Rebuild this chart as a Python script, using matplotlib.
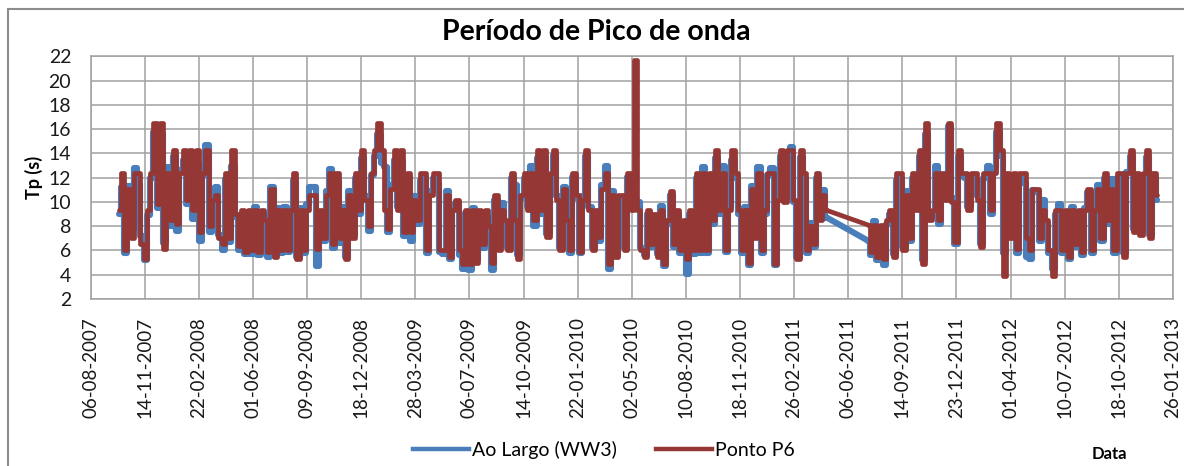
import numpy as np
import pandas as pd
import matplotlib
matplotlib.use('Agg')
import matplotlib.pyplot as plt
import matplotlib.dates as mdates
from matplotlib.patches import Rectangle
from matplotlib.lines import Line2D

plt.rcParams['font.family'] = ['Lato', 'DejaVu Sans']

# Tp (s), one value every 6 days
# first block starts 28-09-2007, second block (after the data gap) starts 13-07-2011
p6_seg1 = [
    9.3, 12.4, 6.0, 11.1, 7.0, 12.4, 12.4, 6.5, 5.3, 9.3,
    12.4, 16.5, 9.8, 16.5, 6.1, 12.4, 8.5, 14.3, 8.2, 12.4,
    14.3, 10.2, 14.3, 9.3, 14.3, 7.5, 12.4, 14.3, 8.0, 10.2,
    10.6, 7.0, 6.5, 12.4, 7.0, 14.3, 9.0, 6.4, 9.3, 5.9,
    9.3, 6.0, 9.3, 5.9, 9.3, 8.5, 5.9, 11.1, 5.5, 9.3,
    6.0, 9.3, 6.0, 9.3, 12.4, 5.3, 9.3, 6.0, 9.3, 10.6,
    10.6, 6.1, 9.3, 7.0, 10.6, 12.4, 6.5, 12.4, 7.0, 9.3,
    5.3, 10.6, 7.0, 12.4, 9.3, 14.3, 10.2, 8.0, 12.4, 14.3,
    16.5, 14.3, 9.3, 7.8, 11.1, 14.3, 9.3, 14.3, 7.5, 12.4,
    7.5, 10.2, 8.5, 12.4, 12.4, 6.0, 10.6, 12.4, 12.4, 6.0,
    6.0, 10.6, 5.5, 9.3, 10.2, 6.0, 4.9, 9.3, 4.9, 9.3,
    5.0, 9.3, 6.5, 9.3, 8.0, 5.0, 10.6, 6.0, 9.3, 8.5,
    6.0, 12.4, 8.5, 5.3, 10.6, 12.4, 9.3, 12.4, 8.5, 14.3,
    9.3, 14.3, 7.1, 12.4, 14.3, 10.2, 6.0, 11.1, 8.5, 6.0,
    12.4, 10.6, 5.9, 10.2, 14.3, 9.3, 6.0, 9.3, 7.1, 11.1,
    12.4, 4.9, 10.6, 5.5, 10.6, 10.6, 6.0, 12.4, 9.3, 21.7,
    9.3, 6.0, 5.5, 9.3, 6.5, 9.0, 5.5, 9.3, 4.9, 8.5,
    10.9, 6.5, 9.3, 6.0, 8.5, 5.3, 9.3, 6.0, 12.4, 6.0,
    12.4, 6.0, 12.4, 8.5, 14.3, 9.3, 12.4, 6.0, 9.3, 14.3,
    12.4, 9.3, 6.0, 9.3, 5.0, 11.1, 7.0, 12.4, 6.0, 9.3,
    12.4, 12.4, 4.9, 10.2, 14.3, 10.0, 14.3, 14.3, 10.2, 5.3,
    14.3, 12.4, 6.0, 8.0, 6.5, 12.4, 8.5, 10.6, 9.3,
]
p6_seg2 = [
    8.1, 5.9, 8.1, 5.5, 8.1, 5.3, 8.5, 9.3, 5.5, 12.4,
    12.4, 6.0, 10.6, 7.0, 12.4, 9.3, 14.3, 4.9, 16.5, 8.5,
    9.3, 12.4, 8.5, 12.4, 10.2, 16.5, 10.0, 6.7, 14.3, 12.4,
    12.4, 9.3, 12.4, 12.4, 10.2, 6.3, 12.4, 12.4, 9.3, 12.4,
    16.5, 14.3, 3.9, 12.4, 7.0, 12.4, 6.1, 12.4, 12.4, 7.0,
    6.0, 11.1, 11.1, 7.0, 9.3, 8.5, 6.0, 3.9, 9.3, 9.3,
    6.0, 9.3, 5.5, 9.3, 6.5, 9.3, 5.9, 9.3, 11.1, 6.0,
    9.3, 11.1, 7.0, 12.4, 8.5, 11.1, 6.0, 12.4, 12.4, 5.5,
    12.4, 14.3, 7.5, 12.4, 7.3, 12.4, 14.3, 7.0, 12.4, 10.6,
]
ww3_seg1 = [
    9.0, 11.2, 5.8, 11.3, 7.8, 12.8, 11.5, 7.2, 5.2, 8.9,
    12.0, 15.8, 9.5, 15.6, 6.6, 12.9, 8.0, 13.8, 7.6, 12.6,
    13.5, 9.8, 13.9, 8.6, 13.2, 6.8, 12.2, 14.7, 7.5, 10.8,
    11.2, 7.3, 6.0, 11.9, 6.7, 13.0, 8.8, 6.0, 9.0, 5.7,
    9.0, 5.7, 9.6, 5.6, 9.0, 8.2, 5.5, 11.2, 5.6, 9.5,
    5.8, 9.6, 5.9, 9.0, 11.8, 5.5, 9.5, 5.8, 9.8, 11.2,
    11.2, 4.7, 9.0, 6.8, 10.9, 12.7, 6.2, 11.8, 6.6, 9.6,
    5.5, 10.9, 7.3, 12.0, 9.0, 13.6, 10.5, 7.6, 12.2, 13.8,
    15.6, 13.2, 12.9, 7.5, 11.4, 13.5, 9.6, 13.4, 7.2, 12.0,
    6.8, 10.5, 8.2, 11.8, 12.0, 5.8, 10.9, 12.0, 11.6, 5.9,
    5.7, 10.9, 5.3, 9.6, 9.9, 5.6, 4.5, 9.1, 4.4, 9.5,
    5.2, 9.0, 6.2, 8.8, 7.6, 4.4, 10.2, 6.3, 9.9, 8.2,
    6.2, 12.0, 11.4, 5.6, 10.3, 12.0, 9.6, 13.0, 8.0, 13.6,
    9.0, 13.7, 7.4, 12.0, 13.9, 10.5, 6.2, 11.2, 8.3, 5.8,
    12.1, 10.3, 5.8, 10.5, 13.8, 9.6, 6.2, 9.0, 6.8, 11.4,
    13.0, 4.5, 10.9, 5.6, 10.3, 10.4, 6.2, 12.1, 9.6, 10.0,
    10.0, 6.2, 5.6, 9.0, 6.3, 8.7, 5.7, 9.7, 4.7, 8.2,
    10.6, 6.3, 9.0, 5.8, 8.2, 4.1, 9.0, 5.7, 12.0, 5.8,
    12.9, 5.8, 12.1, 8.2, 13.6, 9.0, 13.0, 5.9, 9.6, 13.5,
    12.0, 9.0, 5.8, 9.6, 4.8, 11.3, 7.3, 12.9, 5.8, 9.0,
    12.2, 12.8, 4.8, 10.5, 13.8, 10.3, 14.0, 14.5, 10.0, 5.5,
    13.7, 12.0, 5.8, 8.3, 6.3, 12.0, 8.8, 11.0, 8.7,
]
ww3_seg2 = [
    6.8, 5.6, 8.4, 5.2, 7.8, 4.8, 8.2, 9.0, 5.7, 11.8,
    12.0, 6.3, 10.9, 6.8, 12.0, 9.6, 13.8, 5.2, 15.6, 8.8,
    9.0, 13.0, 8.2, 12.0, 10.5, 16.3, 10.3, 6.5, 13.8, 12.2,
    12.0, 9.6, 12.2, 11.8, 10.5, 6.5, 12.0, 13.0, 9.0, 12.8,
    15.8, 13.8, 5.8, 12.0, 7.3, 12.2, 5.8, 12.0, 11.6, 5.5,
    5.3, 11.0, 10.8, 6.8, 10.2, 8.2, 5.8, 4.5, 9.0, 9.8,
    5.8, 9.0, 5.3, 9.6, 6.3, 9.0, 5.6, 9.5, 10.8, 5.8,
    9.0, 11.4, 6.8, 12.0, 8.2, 11.9, 5.8, 12.0, 12.2, 5.8,
    12.5, 13.8, 7.8, 12.0, 7.6, 12.2, 13.7, 7.3, 12.0, 10.2,
]

dates1 = pd.date_range('2007-09-28', periods=len(p6_seg1), freq='6D')
dates2 = pd.date_range('2011-07-13', periods=len(p6_seg2), freq='6D')

x_ticks = pd.date_range('2007-08-06', periods=21, freq='100D')

blue = '#4A7EBB'
red = '#953735'
grid_c = '#A0A0A0'

fig = plt.figure(figsize=(11.84, 4.66), dpi=100)
ax = fig.add_axes([0.0766, 0.3584, 0.9140, 0.5204])


def draw_series(seg1, seg2, color, lw, z):
    # dense record drawn as steps; the data gap is bridged by a straight line
    kw = dict(color=color, lw=lw, zorder=z, solid_joinstyle='round', solid_capstyle='round')
    ax.plot(dates1, seg1, drawstyle='steps-mid', **kw)
    ax.plot(dates2, seg2, drawstyle='steps-mid', **kw)
    ax.plot([dates1[-1], dates2[0]], [seg1[-1], seg2[0]], **kw)


draw_series(ww3_seg1, ww3_seg2, blue, 4.4, 3)
draw_series(p6_seg1, p6_seg2, red, 3.4, 4)

ax.set_xlim(x_ticks[0], x_ticks[-1])
ax.set_ylim(2, 22)
ax.set_yticks(np.arange(2, 23, 2))
ax.set_xticks(x_ticks)
ax.xaxis.set_major_formatter(mdates.DateFormatter('%d-%m-%Y'))
ax.tick_params(axis='x', rotation=90, length=0, pad=13, labelsize=13.5, colors='#1a1a1a')
ax.tick_params(axis='y', length=0, pad=14, labelsize=14, colors='#1a1a1a')
ax.grid(True, color=grid_c, lw=1.1)
ax.set_axisbelow(True)
for s in ax.spines.values():
    s.set_color(grid_c)
    s.set_linewidth(1.1)

ax.set_ylabel('Tp (s)', fontsize=13, fontweight='bold', labelpad=4)
fig.text(0.504, 0.931, 'Período de Pico de onda', ha='center', va='center',
         fontsize=20.5, fontweight='bold')
fig.text(0.937, 0.025, 'Data', ha='center', va='center', fontsize=12, fontweight='bold')

handles = [Line2D([], [], color=blue, lw=3.2), Line2D([], [], color=red, lw=3.2)]
fig.legend(handles, ['Ao Largo (WW3)', 'Ponto P6'], loc='center', ncol=2,
           bbox_to_anchor=(0.51, 0.035), frameon=False, fontsize=14,
           handlelength=2.9, handletextpad=0.15, columnspacing=2.0)

# outer chart frame
fig.patches.append(Rectangle((8 / 1184, -0.1), 1.5, (466 - 9) / 466 + 0.1,
                             transform=fig.transFigure, fill=False,
                             edgecolor='#8C8C8C', lw=1.5))

fig.savefig('out.png', dpi=100)
